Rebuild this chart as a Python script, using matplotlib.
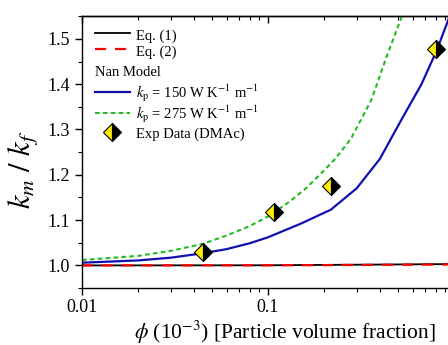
import matplotlib
matplotlib.use('Agg')
import matplotlib.pyplot as plt
from matplotlib.ticker import FixedLocator, MultipleLocator, NullFormatter

plt.rcParams['font.family'] = 'Liberation Serif'
plt.rcParams['mathtext.fontset'] = 'stix'

# Eq. (1) and Eq. (2): essentially flat at 1
phi_eq = [0.01, 0.1, 1.0]
eq1 = [1.000, 1.0003, 1.003]
eq2 = [1.000, 1.0002, 1.002]

# Nan model, kp = 150 W/K/m
phi_150 = [0.01, 0.02, 0.03, 0.045, 0.06, 0.08, 0.1, 0.15, 0.218, 0.3, 0.4, 0.52, 0.67, 0.81, 0.93, 1.0]
k_150 = [1.006, 1.011, 1.017, 1.027, 1.036, 1.049, 1.062, 1.092, 1.123, 1.17, 1.235, 1.32, 1.40, 1.475, 1.54, 1.58]

# Nan model, kp = 275 W/K/m
phi_275 = [0.01, 0.02, 0.03, 0.045, 0.06, 0.08, 0.1, 0.13, 0.16, 0.19, 0.23, 0.28, 0.36, 0.43, 0.52, 0.6]
k_275 = [1.012, 1.021, 1.032, 1.048, 1.066, 1.087, 1.108, 1.14, 1.17, 1.20, 1.235, 1.28, 1.365, 1.455, 1.545, 1.62]

# experimental data (DMAc)
phi_exp = [0.0447, 0.1076, 0.218, 0.80]
k_exp = [1.029, 1.119, 1.176, 1.478]

x_major = [0.01, 0.1]
x_minor = [0.02, 0.03, 0.04, 0.05, 0.06, 0.07, 0.08, 0.09,
           0.2, 0.3, 0.4, 0.5, 0.6, 0.7, 0.8, 0.9]
y_major = [1.0, 1.1, 1.2, 1.3, 1.4, 1.5]

fig = plt.figure(figsize=(4.48, 3.45), dpi=100)
ax = fig.add_axes([0.183, 0.165, 0.83, 0.788])

l1, = ax.plot(phi_eq, eq1, color='black', lw=1.3, label='Eq. (1)')
l2, = ax.plot(phi_eq, eq2, color='#ff0000', lw=1.6, ls=(0, (5, 4)), label='Eq. (2)')
l3, = ax.plot(phi_150, k_150, color='#1010b0', lw=1.6,
              label=r'$k_\mathrm{p}$ = 150 W K$^{-1}$ m$^{-1}$')
l4, = ax.plot(phi_275, k_275, color='#22bb22', lw=1.5, ls=(0, (2.2, 1.6)),
              label=r'$k_\mathrm{p}$ = 275 W K$^{-1}$ m$^{-1}$')
l5, = ax.plot(phi_exp, k_exp, ls='none', marker='D', markersize=9, fillstyle='left',
              markerfacecolor='#ffee00', markerfacecoloralt='black',
              markeredgecolor='black', markeredgewidth=0.8, label='Exp Data (DMAc)')

ax.set_xscale('log')
ax.set_xlim(0.01, 1.0)
ax.set_ylim(0.95, 1.55)

ax.xaxis.set_major_locator(FixedLocator(x_major))
ax.xaxis.set_minor_locator(FixedLocator(x_minor))
ax.xaxis.set_minor_formatter(NullFormatter())
ax.set_xticklabels(['0.01', '0.1'])
ax.set_yticks(y_major)
ax.set_yticklabels(['%.1f' % v for v in y_major])
ax.yaxis.set_minor_locator(MultipleLocator(0.05))

ax.tick_params(axis='both', which='major', labelsize=13, length=5, width=1, direction='out')
ax.tick_params(axis='both', which='minor', length=3, width=0.8, direction='out')
ax.tick_params(axis='x', which='major', pad=3)

# top axis: ticks pointing in, no labels
top = ax.secondary_xaxis('top')
top.xaxis.set_major_locator(FixedLocator(x_major))
top.xaxis.set_minor_locator(FixedLocator(x_minor))
top.xaxis.set_minor_formatter(NullFormatter())
top.tick_params(axis='x', which='major', direction='in', length=5, width=1, labeltop=False)
top.tick_params(axis='x', which='minor', direction='in', length=3, width=0.8)
for s in list(ax.spines.values()) + list(top.spines.values()):
    s.set_linewidth(1.0)

ax.set_ylabel(r'$k_m\ /\ k_f$', fontsize=22)
ax.yaxis.set_label_coords(-0.11, 0.434)
ax.set_xlabel(r'$\phi$ (10$^{-3}$) [Particle volume fraction]', fontsize=15.5)
ax.xaxis.set_label_coords(0.546, -0.112)

leg_kw = dict(loc='upper left', frameon=False, fontsize=10.5, handlelength=2.4,
              handletextpad=0.4, handleheight=1.3, labelspacing=0.0,
              borderpad=0, borderaxespad=0)
leg1 = ax.legend(handles=[l1, l2], bbox_to_anchor=(0.035, 0.961), **leg_kw)
ax.add_artist(leg1)
ax.text(0.035, 0.794, 'Nan Model', transform=ax.transAxes, fontsize=10.5,
        ha='left', va='center')
ax.legend(handles=[l3, l4, l5], bbox_to_anchor=(0.035, 0.755), **leg_kw)

fig.savefig('out.png', dpi=100)
